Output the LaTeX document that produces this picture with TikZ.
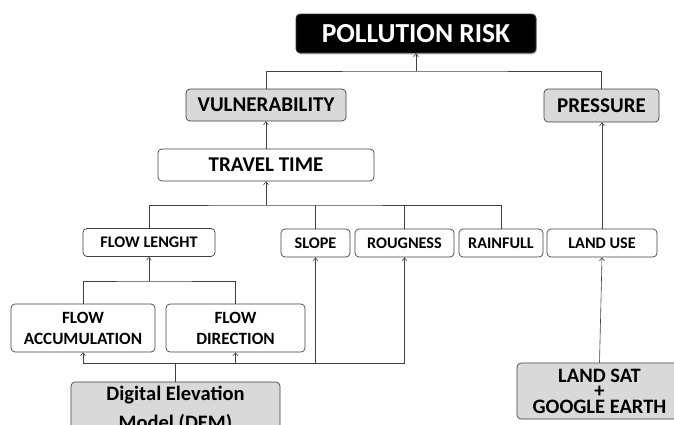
\documentclass[tikz,border=0pt]{standalone}
\usepackage{fontspec}
\setmainfont{Carlito}
\usetikzlibrary{arrows.meta,shadows}
\definecolor{boxgray}{HTML}{D9D9D9}
\definecolor{linegray}{HTML}{404040}
\begin{document}
\begin{tikzpicture}[x=1pt,y=-1pt,
  box/.style={draw=linegray, line width=0.7pt, rounded corners=4pt, inner sep=0pt, align=center, fill=white,
    font=\bfseries\fontsize{16.2}{19}\selectfont},
  graybox/.style={box, fill=boxgray},
  conn/.style={draw=linegray, line width=0.6pt},
  arr/.style={conn, -{Straight Barb[length=3pt,width=5pt]}},
]
\useasboundingbox (0,0) rectangle (674,424);

% nodes
\node[box, fill=black, text=white, minimum width=240, minimum height=39,
  font=\bfseries\fontsize{27.5}{32}\selectfont,
  drop shadow={opacity=0.35, shadow xshift=1pt, shadow yshift=-1.5pt}] (pr) at (416,33.5) {POLLUTION RISK};
\node[graybox, minimum width=160, minimum height=32, font=\bfseries\fontsize{21}{25}\selectfont] (vul) at (266,105) {VULNERABILITY};
\node[graybox, minimum width=115, minimum height=33, font=\bfseries\fontsize{21}{25}\selectfont] (pres) at (601.5,105.5) {PRESSURE};
\node[box, minimum width=216, minimum height=32, font=\bfseries\fontsize{21}{25}\selectfont] (tt) at (266,165) {TRAVEL TIME};

\node[box, minimum width=132, minimum height=28] (fl) at (149,242.5) {FLOW LENGHT};
\node[box, minimum width=69, minimum height=28] (slope) at (315.5,243) {SLOPE};
\node[box, minimum width=99, minimum height=28] (roug) at (404.5,243) {ROUGNESS};
\node[box, minimum width=84, minimum height=28] (rain) at (501,243) {RAINFULL};
\node[box, minimum width=110, minimum height=28] (lu) at (602,243) {LAND USE};

\node[box, minimum width=144, minimum height=48, font=\bfseries\fontsize{17.2}{21}\selectfont] (fa) at (83,328) {FLOW\\ACCUMULATION};
\node[box, minimum width=139, minimum height=48, font=\bfseries\fontsize{17.2}{21}\selectfont] (fd) at (235.5,328) {FLOW\\DIRECTION};

\node[graybox, minimum width=209, minimum height=54, font=\bfseries\fontsize{20.5}{29}\selectfont] (dem) at (175.5,409) {Digital Elevation\\Model (DEM)};
\node[graybox, minimum width=165, minimum height=56, font=\bfseries\fontsize{20.5}{15.5}\selectfont] (ls) at (599.5,391) {LAND SAT\\+\\GOOGLE EARTH};

% junctions
\coordinate (j1) at (416,71);
\coordinate (j2) at (266,205);
\coordinate (j3) at (149,281);
\coordinate (j4) at (175.5,363);

% connectors
\draw[conn] (vul.north) |- (j1) -| (pres.north);
\draw[arr] (j1) -- (pr.south);
\draw[arr] (tt.north) -- (vul.south);
\draw[conn] (fl.north) |- (j2) -| (rain.north);
\draw[conn] (slope.north) -- (slope.north |- j2);
\draw[conn] (roug.north) -- (roug.north |- j2);
\draw[arr] (j2) -- (tt.south);
\draw[arr] (lu.north) -- (lu.north |- pres.south);
\draw[conn] (fa.north) |- (j3) -| (fd.north);
\draw[arr] (j3) -- (fl.south);
\draw[conn] (dem.north) -- (j4);
\draw[conn] (fa.south |- j4) -- (roug.south |- j4);
\draw[arr] (fa.south |- j4) -- (fa.south);
\draw[arr] (fd.south |- j4) -- (fd.south);
\draw[arr] (slope.south |- j4) -- (slope.south);
\draw[arr] (roug.south |- j4) -- (roug.south);
\draw[arr] (ls.north) -- (lu.south);
\end{tikzpicture}
\end{document}
